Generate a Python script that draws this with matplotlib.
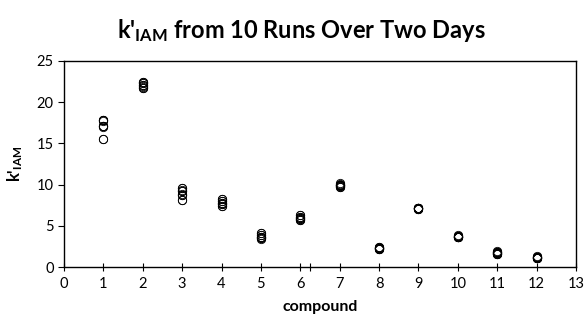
import numpy as np
import matplotlib
matplotlib.use("Agg")
import matplotlib.pyplot as plt

plt.rcParams['font.family'] = ['Lato', 'DejaVu Sans']
plt.rcParams['mathtext.fontset'] = 'custom'
plt.rcParams['mathtext.rm'] = 'Lato:bold'
plt.rcParams['mathtext.it'] = 'Lato:bold'
plt.rcParams['mathtext.bf'] = 'Lato:bold'

# k' values for each compound, 10 runs
compounds = [1, 2, 3, 4, 5, 6, 7, 8, 9, 10, 11, 12]
k_runs = [
    [17.8, 17.8, 17.7, 17.1, 17.1, 17.0, 15.5, 15.5, 17.8, 17.1],
    [22.5, 22.5, 22.3, 22.1, 22.1, 21.8, 21.7, 21.7, 22.3, 21.9],
    [9.6, 9.6, 9.2, 9.2, 8.9, 8.7, 8.7, 8.1, 8.1, 9.3],
    [8.2, 8.2, 8.0, 7.8, 7.8, 7.7, 7.4, 7.4, 8.0, 7.7],
    [4.1, 4.1, 3.9, 3.7, 3.7, 3.5, 3.5, 3.4, 3.9, 3.7],
    [6.3, 6.3, 6.1, 6.0, 6.0, 5.8, 5.7, 5.7, 6.1, 5.8],
    [10.2, 10.1, 10.0, 9.9, 9.9, 9.8, 9.7, 9.7, 10.0, 9.8],
    [2.4, 2.4, 2.3, 2.3, 2.3, 2.2, 2.2, 2.2, 2.3, 2.3],
    [7.2, 7.2, 7.1, 7.1, 7.1, 7.0, 7.0, 7.0, 7.1, 7.1],
    [3.9, 3.8, 3.8, 3.7, 3.7, 3.7, 3.6, 3.6, 3.8, 3.7],
    [1.9, 1.8, 1.8, 1.7, 1.7, 1.6, 1.6, 1.6, 1.7, 1.8],
    [1.3, 1.2, 1.2, 1.2, 1.1, 1.1, 1.1, 1.1, 1.2, 1.1],
]
x_ticks = list(range(0, 14))
y_ticks = [0, 5, 10, 15, 20, 25]

fig = plt.figure(figsize=(5.85, 3.19), dpi=100)
ax = fig.add_axes([0.1094, 0.163, 0.8752, 0.646])

for c, vals in zip(compounds, k_runs):
    ax.plot([c] * len(vals), vals, 'o', mfc='none', mec='black',
            ms=6, mew=0.6, linestyle='none')

ax.set_xlim(0, 13)
ax.set_ylim(0, 25)
ax.set_xticks(x_ticks)
ax.set_xticks([6.25], minor=True)
ax.set_yticks(y_ticks)
ax.tick_params(axis='x', which='both', direction='inout', length=6, width=0.8,
               labelsize=10.5, pad=4, top=False)
ax.tick_params(axis='y', direction='out', length=4, width=0.8, labelsize=10.5,
               right=False)
for s in ax.spines.values():
    s.set_linewidth(1.0)

ax.set_xlabel('compound', fontsize=11.5, fontweight='bold', labelpad=7)
ax.set_ylabel("k'$_{\\rm IAM}$", fontsize=12, fontweight='bold', labelpad=8)
fig.text(0.515, 0.905, "k'$_{\\rm IAM}$ from 10 Runs Over Two Days", fontsize=17,
         fontweight='bold', ha='center', va='center')

fig.savefig('out.png', dpi=100)
